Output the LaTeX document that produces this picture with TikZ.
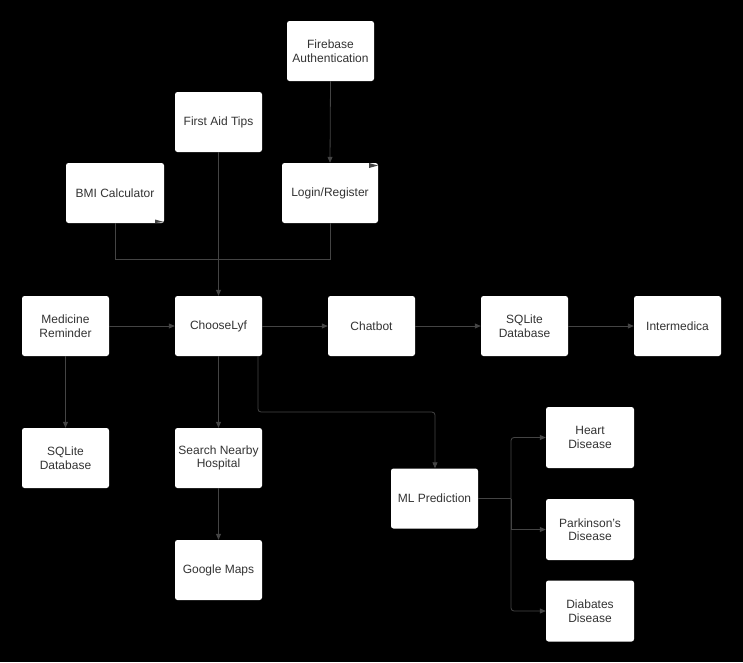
\documentclass[tikz,border=0pt]{standalone}
\usepackage{fontspec}
\setmainfont{Liberation Sans}
\usetikzlibrary{arrows.meta}
\definecolor{conn}{HTML}{444444}
\definecolor{txt}{HTML}{333333}
\begin{document}
\begin{tikzpicture}[x=1pt,y=-1pt,
  box/.style={fill=white,draw=none,rounded corners=2.5pt,minimum width=87pt,minimum height=60pt,
    inner sep=2pt,align=center,text=txt,font=\fontsize{12}{13.5}\selectfont},
  link/.style={draw=conn,line width=0.8pt},
  arr/.style={link,-{Triangle[length=6pt,width=5pt]}},
  tip/.style={fill=conn,draw=none}]
\fill[black] (0,0) rectangle (743,662);
\useasboundingbox (0,0) rectangle (743,662);
% nodes
\node[box] (fire) at (330.5,51) {Firebase\\Authentication};
\node[box] (aid) at (218.5,122) {First Aid Tips};
\node[box,minimum width=98pt] (bmi) at (115,193) {BMI Calculator};
\node[box,minimum width=96pt] (login) at (330,193) {Login/Register};
\node[box] (med) at (65.5,326) {Medicine\\Reminder};
\node[box] (choose) at (218.5,326) {ChooseLyf};
\node[box] (chat) at (371.5,326) {Chatbot};
\node[box] (sql1) at (524.5,326) {SQLite\\Database};
\node[box] (inter) at (677.5,326) {Intermedica};
\node[box] (sql2) at (65.5,458) {SQLite\\Database};
\node[box] (search) at (218.5,458) {Search Nearby\\Hospital};
\node[box] (maps) at (218.5,570) {Google Maps};
\node[box] (ml) at (434.5,498.5) {ML Prediction};
\node[box,minimum width=88pt,minimum height=61pt] (heart) at (590,437.5) {Heart\\Disease};
\node[box,minimum width=88pt,minimum height=61pt] (park) at (590,529.5) {Parkinson's\\Disease};
\node[box,minimum width=88pt,minimum height=61pt] (diab) at (590,611) {Diabates\\Disease};
% junction coordinates
\coordinate (jb) at (115,259);
\coordinate (jl) at (330,259);
\coordinate (c1) at (258,412);
\coordinate (c2) at (435,412);
\coordinate (mj) at (511,498.5);
% connectors
\draw[arr] (fire.south) -- (login.north);
\draw[arr] (aid.south) -- (choose.north);
\draw[link] (bmi.south) -- (jb) -- (jl) -- (login.south);
\draw[arr] (med.east) -- (choose.west);
\draw[arr] (choose.east) -- (chat.west);
\draw[arr] (chat.east) -- (sql1.west);
\draw[arr] (sql1.east) -- (inter.west);
\draw[arr] (med.south) -- (sql2.north);
\draw[arr] (choose.south) -- (search.north);
\draw[arr] (search.south) -- (maps.north);
\draw[arr,rounded corners=3pt] (choose.south east -| c1) -- (c1) -- (c2) -- (ml.north -| c2);
\draw[link] (ml.east) -- (mj);
\draw[arr,rounded corners=3pt] (mj) |- (heart.west);
\draw[arr] (mj) -- (park.west -| mj) -- (park.west);
\draw[arr,rounded corners=3pt] (mj) |- (diab.west);
% stray arrowheads at box corners
\fill[tip] (155,219.5) -- (164,222) -- (155,223) -- cycle;
\fill[tip] (369,163) -- (378,165.5) -- (369,168) -- cycle;
\end{tikzpicture}
\end{document}
